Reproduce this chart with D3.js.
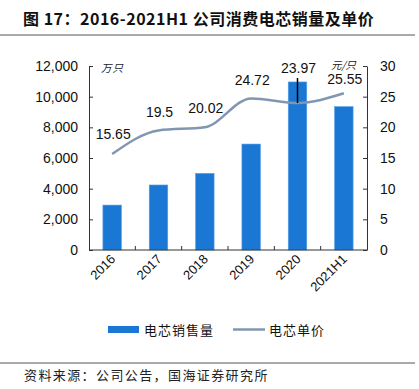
<!DOCTYPE html>
<html>
<head>
<meta charset="utf-8">
<script src="https://cdn.jsdelivr.net/npm/d3@7"></script>
<style>
  body { margin: 0; background: #fff; }
  svg { display: block; font-family: "Liberation Sans", Arial, sans-serif; }
  .cjk { font-family: "Noto Sans CJK SC", sans-serif; }
</style>
</head>
<body>
<svg id="chart" width="419" height="389"></svg>
<script>
const categories = ['2016', '2017', '2018', '2019', '2020', '2021H1'];
const salesVolume = [2930, 4240, 5000, 6910, 10960, 9350];
const unitPrice = [15.65, 19.5, 20.02, 24.72, 23.97, 25.55];
const leftTicks = [0, 2000, 4000, 6000, 8000, 10000, 12000];
const rightTicks = [0, 5, 10, 15, 20, 25, 30];

const svg = d3.select('#chart');
const plotLeft = 89, plotRight = 367, plotTop = 66, plotBottom = 250;

const x = d3.scaleBand().domain(categories).range([plotLeft, plotRight]).paddingInner(0.6).paddingOuter(0.3);
const yL = d3.scaleLinear().domain([0, 12000]).range([plotBottom, plotTop]);
const yR = d3.scaleLinear().domain([0, 30]).range([plotBottom, plotTop]);

// title
svg.append('text')
  .attr('class', 'cjk')
  .attr('x', 23).attr('y', 25)
  .attr('font-size', 16).attr('font-weight', 'bold')
  .attr('letter-spacing', 0.5)
  .attr('fill', '#111')
  .text('图 17：2016-2021H1 公司消费电芯销量及单价');
svg.append('line')
  .attr('x1', 0).attr('x2', 415).attr('y1', 35).attr('y2', 35)
  .attr('stroke', '#8c8c8c').attr('stroke-width', 1.5);

// bars
svg.append('g').selectAll('rect')
  .data(salesVolume)
  .join('rect')
  .attr('x', (d, i) => x(categories[i]))
  .attr('width', x.bandwidth())
  .attr('y', d => yL(d))
  .attr('height', d => plotBottom - yL(d))
  .attr('fill', '#1a78d4')
  .attr('stroke', '#5aa0e6').attr('stroke-width', 0.6);

// axes
const axisFont = g => g.selectAll('text').attr('font-size', 14).attr('fill', '#111')
  .attr('font-family', '"Liberation Sans", Arial, sans-serif');

svg.append('g')
  .attr('transform', `translate(${plotLeft},0)`)
  .call(d3.axisLeft(yL).tickValues(leftTicks).tickSizeInner(-4).tickSizeOuter(0).tickPadding(11).tickFormat(d3.format(',')))
  .call(axisFont)
  .call(g => g.selectAll('line, path').attr('stroke', '#333'));

svg.append('g')
  .attr('transform', `translate(${plotRight},0)`)
  .call(d3.axisRight(yR).tickValues(rightTicks).tickSizeInner(-4).tickSizeOuter(0).tickPadding(13))
  .call(axisFont)
  .call(g => g.selectAll('line, path').attr('stroke', '#333'));

const xAxis = svg.append('g')
  .attr('transform', `translate(0,${plotBottom})`)
  .call(d3.axisBottom(x).tickSize(0).tickPadding(0));
xAxis.select('.domain').attr('stroke', '#333').attr('d', `M${plotLeft},0H${plotRight}`);
xAxis.selectAll('text')
  .attr('font-size', 13).attr('fill', '#111')
  .attr('font-family', '"Liberation Sans", Arial, sans-serif')
  .attr('text-anchor', 'end')
  .attr('dy', 0)
  .attr('transform', 'translate(4,10) rotate(-45)');
// tick marks between categories
xAxis.selectAll('.sep')
  .data(d3.range(1, categories.length))
  .join('line')
  .attr('x1', i => plotLeft + i * (plotRight - plotLeft) / categories.length)
  .attr('x2', i => plotLeft + i * (plotRight - plotLeft) / categories.length)
  .attr('y1', 0).attr('y2', -4)
  .attr('stroke', '#333');

// price line
const cx = c => x(c) + x.bandwidth() / 2;
const line = d3.line()
  .x((d, i) => cx(categories[i]))
  .y(d => yR(d))
  .curve(d3.curveMonotoneX);
svg.append('path')
  .datum(unitPrice)
  .attr('d', line)
  .attr('fill', 'none')
  .attr('stroke', '#8196b2')
  .attr('stroke-width', 2.5);

// price labels
const labelOffset = [15, 13, 14, 13, 30, 9];
svg.append('g').selectAll('text')
  .data(unitPrice)
  .join('text')
  .attr('x', (d, i) => cx(categories[i]) + 1)
  .attr('y', (d, i) => yR(d) - labelOffset[i])
  .attr('text-anchor', 'middle')
  .attr('font-size', 14).attr('fill', '#111')
  .text(d => d);
// leader for 2020 label
svg.append('line')
  .attr('x1', cx('2020')).attr('x2', cx('2020'))
  .attr('y1', yR(unitPrice[4]) - 25).attr('y2', yR(unitPrice[4]))
  .attr('stroke', '#000').attr('stroke-width', 1.5);

// unit labels
svg.append('text').attr('class', 'cjk')
  .attr('x', 101).attr('y', 72)
  .attr('font-size', 10.5).attr('font-style', 'italic').attr('fill', '#222')
  .attr('letter-spacing', 1)
  .text('万只');
svg.append('text').attr('class', 'cjk')
  .attr('x', 331).attr('y', 69)
  .attr('font-size', 10.5).attr('font-style', 'italic').attr('fill', '#222')
  .text('元/只');

// legend
const lg = svg.append('g').attr('class', 'cjk');
lg.append('rect').attr('x', 108).attr('y', 326).attr('width', 31).attr('height', 7).attr('fill', '#1a78d4');
lg.append('text').attr('x', 144).attr('y', 334.5).attr('font-size', 13).attr('letter-spacing', 1)
  .attr('fill', '#111').text('电芯销售量');
lg.append('line').attr('x1', 233).attr('x2', 265).attr('y1', 329.5).attr('y2', 329.5)
  .attr('stroke', '#8196b2').attr('stroke-width', 2.5);
lg.append('text').attr('x', 269).attr('y', 334.5).attr('font-size', 13).attr('letter-spacing', 1)
  .attr('fill', '#111').text('电芯单价');

// source
svg.append('line')
  .attr('x1', 0).attr('x2', 415).attr('y1', 363).attr('y2', 363)
  .attr('stroke', '#8c8c8c').attr('stroke-width', 1.5);
svg.append('text').attr('class', 'cjk')
  .attr('x', 24).attr('y', 380)
  .attr('font-size', 13).attr('letter-spacing', 1.4).attr('fill', '#222')
  .text('资料来源：公司公告，国海证券研究所');
</script>
</body>
</html>
